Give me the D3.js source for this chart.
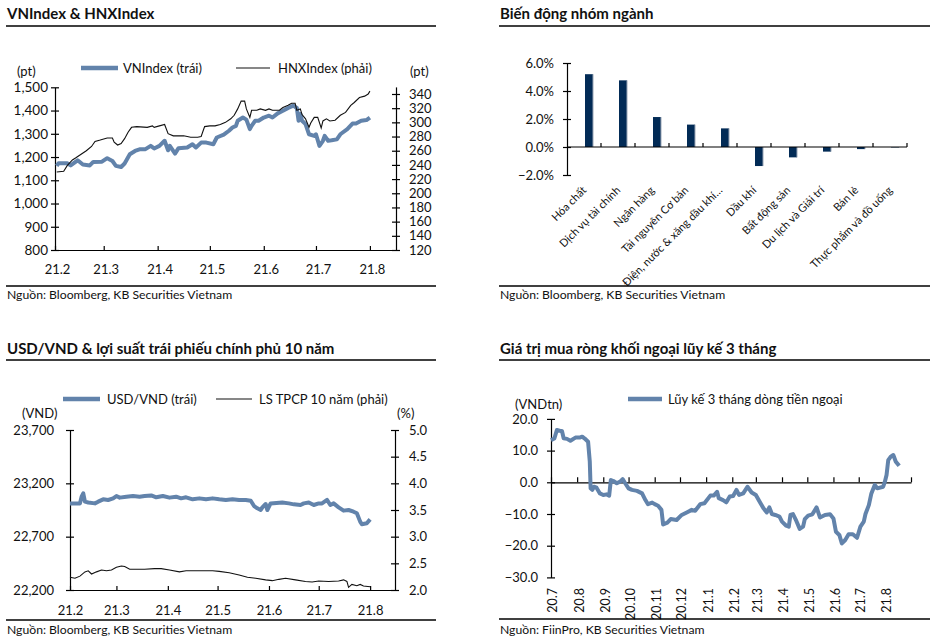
<!DOCTYPE html>
<html><head><meta charset="utf-8">
<script src="https://cdn.jsdelivr.net/npm/d3@7"></script>
<style>
body{margin:0;background:#fff;}
svg text{font-family:Lato,"Open Sans",sans-serif;fill:#111;}
</style></head><body>
<svg id="c" width="951" height="639"></svg>
<script>
// ---------- DATA ----------
// Panel 1: VNIndex & HNXIndex (days since 2021-02-01)
const vnDays = [1,2,7,9,13,16,20,22,27,30,33,35,38,40,43,46,49,52,55,57,60,63,65,66,69,71,76,79,81,84,87,91,93,97,100,102,104,105,108,110,112,113,115,117,120,123,125,128,131,134,137,139,140,141,142,144,146,149,150,152,154,155,157,159,162,164,168,171,173,176,179,181];
const vnValues = [1162,1173,1173,1164,1186,1168,1164,1179,1180,1195,1183,1162,1157,1172,1212,1226,1234,1234,1248,1237,1248,1270,1229,1248,1215,1238,1241,1255,1241,1262,1262,1255,1284,1296,1313,1327,1334,1356,1370,1361,1320,1334,1356,1356,1370,1378,1370,1388,1399,1411,1421,1411,1356,1385,1356,1342,1298,1291,1298,1248,1270,1291,1270,1272,1276,1298,1320,1344,1344,1356,1359,1370];
const hnxDays = [1,5,7,10,12,15,18,21,23,26,30,33,34,36,38,40,42,44,47,53,56,57,60,63,65,68,71,74,78,82,84,86,89,92,95,98,101,103,105,107,109,110,112,113,116,118,121,123,125,129,131,134,136,138,139,141,142,144,146,147,149,151,153,154,156,158,161,164,167,170,172,175,178,180,181];
const hnxValues = [230,231,239,247,250,255,260,266,273,275,278,278,272,268,270,277,286,293,294,293,295,293,295,297,284,281,281,281,279,279,280,294,295,295,297,300,305,310,319,330,330,319,307,317,317,319,317,319,317,317,321,324,327,327,317,319,311,305,293,299,307,307,292,302,305,302,303,310,314,324,328,335,337,340,344];
const p1LeftTicks = [800,900,1000,1100,1200,1300,1400,1500];
const p1RightTicks = [120,140,160,180,200,220,240,260,280,300,320,340];
const p1MonthLabels = ["21.2","21.3","21.4","21.5","21.6","21.7","21.8"];

// Panel 2: sector changes (%)
const sectors = ["Hóa chất","Dịch vụ tài chính","Ngân hàng","Tài nguyên Cơ bản","Điện, nước & xăng dầu khí…","Dầu khí","Bất động sản","Du lịch và Giải trí","Bán lẻ","Thực phẩm và đồ uống"];
const sectorChanges = [5.2,4.76,2.14,1.6,1.33,-1.36,-0.74,-0.33,-0.15,-0.03];
const p2Ticks = [-2,0,2,4,6];

// Panel 3: USD/VND & 10Y bond yield (days since 2021-02-01)
const fxDays = [0,6,7,8,9,11,15,17,20,23,26,28,30,34,38,42,45,49,52,56,60,64,67,70,74,78,82,86,90,94,98,102,106,109,111,113,115,116,118,119,121,128,132,135,139,141,144,147,150,152,155,157,159,162,165,168,171,173,175,176,179,181];
const fxValues = [23012,23012,23075,23106,23028,23020,23012,23028,23050,23044,23059,23081,23066,23075,23081,23075,23081,23087,23069,23081,23066,23075,23059,23069,23050,23059,23050,23059,23050,23044,23050,23044,23044,23037,22987,22966,22950,22975,23006,22950,23012,23020,23012,23003,22997,23012,23020,22997,23012,23012,23044,22997,23012,22975,22944,22950,22934,22919,22841,22816,22825,22862];
const bondDays = [0,3,6,9,11,13,16,19,22,25,28,31,33,36,40,45,51,55,60,66,70,78,86,90,96,102,107,112,118,122,126,130,136,142,146,150,156,162,165,167,168,170,173,175,177,181];
const bondValues = [2.24,2.22,2.26,2.34,2.36,2.30,2.34,2.375,2.36,2.375,2.425,2.45,2.44,2.39,2.39,2.39,2.40,2.40,2.375,2.34,2.36,2.36,2.36,2.35,2.325,2.28,2.24,2.22,2.19,2.175,2.20,2.22,2.19,2.16,2.15,2.17,2.16,2.17,2.19,2.16,2.05,2.105,2.08,2.105,2.075,2.06];
const p3LeftTicks = [22200,22700,23200,23700];
const p3RightTicks = [2.0,2.5,3.0,3.5,4.0,4.5,5.0];
const p3MonthLabels = ["21.2","21.3","21.4","21.5","21.6","21.7","21.8"];

// Panel 4: foreign net buying, 3-month cumulative (days since 2020-07-01)
const flowDays = [0,4,7,11,13,15,19,23,29,34,37,40,44,46,47,49,51,54,58,62,66,69,71,74,78,82,85,88,92,96,102,108,112,115,120,123,127,131,133,138,142,149,155,161,167,171,177,182,189,193,197,199,204,208,212,216,220,223,228,233,238,243,247,252,256,259,262,266,271,274,279,282,284,287,291,295,299,301,305,310,315,319,325,331,335,338,342,345,349,353,358,363,367,371,373,377,380,384,387,394,396,398,400,403,406,409,413];
const flowValues = [13.3,13.8,16.5,16.2,16.2,13.9,13.7,13.1,14.1,14.1,14.4,13.8,12.8,6.5,-1.9,-2.4,-1.4,-1.7,-3.5,-4.0,-3.8,-4.2,0.7,0.4,-0.3,0.2,1.0,-0.3,-1.9,-2.4,-2.7,-3.5,-5.6,-6.9,-6.4,-6.9,-7.4,-8.7,-13.3,-12.7,-11.6,-11.9,-10.3,-9.5,-8.7,-9.0,-6.9,-6.6,-4.2,-4.2,-3.0,-5.0,-5.6,-6.3,-4.5,-4.3,-2.4,-4.0,-3.5,-1.4,-3.2,-4.0,-5.9,-8.2,-9.5,-7.9,-10.0,-10.3,-10.8,-12.4,-13.7,-14.0,-10.3,-10.0,-12.2,-14.7,-14.0,-11.6,-10.5,-10.1,-7.9,-11.1,-10.3,-10.1,-11.4,-15.6,-16.6,-19.3,-18.2,-16.4,-16.4,-17.5,-14.0,-12.4,-10.0,-7.2,-3.5,-0.85,-1.9,-1.4,0.2,2.3,7.0,8.1,8.6,6.5,5.2];
const p4Ticks = [-30,-20,-10,0,10,20];
const p4MonthLabels = ["20.7","20.8","20.9","20.10","20.11","20.12","21.1","21.2","21.3","21.4","21.5","21.6","21.7","21.8"];

// ---------- HELPERS ----------
const BLUE = "#6283ab", NAVY = "#022b56", INK = "#111";
const svg = d3.select("#c");
const monthDate = s => { const [yy, mm] = s.split(".").map(Number); return new Date(2000 + yy, mm - 1, 1); };
const start21 = new Date(2021, 1, 1), start20 = new Date(2020, 6, 1);
const toDate = (base, d) => d3.timeDay.offset(base, d);

function title(x, y, t){ svg.append("text").attr("x",x).attr("y",y).attr("font-size",15).attr("font-weight",700).text(t); }
function rule(x1, x2, y){ svg.append("line").attr("x1",x1).attr("x2",x2).attr("y1",y).attr("y2",y).attr("stroke","#000").attr("stroke-width",1.3); }
function label(x, y, t, fs, anchor){ return svg.append("text").attr("x",x).attr("y",y).attr("dy","0.35em").attr("font-size",fs).attr("text-anchor",anchor||"start").text(t); }
function styleAxis(g, fs){
  g.attr("font-family",null).attr("font-size",fs);
  g.selectAll("path,line").attr("stroke","#000").attr("stroke-width",1.2);
  g.selectAll("text").attr("fill",INK);
}
function crossTicks(g, side){ g.selectAll(".tick line").attr("x1", side === "left" ? 4 : -4); }
function legendLine(x1, x2, y, color, w){ svg.append("line").attr("x1",x1).attr("x2",x2).attr("y1",y).attr("y2",y).attr("stroke",color).attr("stroke-width",w); }

// ---------- PANEL 1 ----------
title(7, 18.5, "VNIndex & HNXIndex");
rule(6, 436, 26);
const x1 = d3.scaleTime().domain([start21, new Date(2021,7,16)]).range([55,396]);
const y1L = d3.scaleLinear().domain([800,1500]).range([250,87.3]);
const y1R = d3.scaleLinear().domain([120,350]).range([250,86.9]);
{
  const gl = svg.append("g").attr("transform","translate(55,0)")
    .call(d3.axisLeft(y1L).tickValues(p1LeftTicks).tickFormat(d3.format(",")).tickSize(4).tickSizeOuter(0).tickPadding(3));
  styleAxis(gl, 13.5); crossTicks(gl, "left");
  const gr = svg.append("g").attr("transform","translate(396,0)")
    .call(d3.axisRight(y1R).tickValues(p1RightTicks).tickSize(4).tickSizeOuter(0).tickPadding(9));
  styleAxis(gr, 13); crossTicks(gr, "right");
  const gx = svg.append("g").attr("transform","translate(0,250)")
    .call(d3.axisBottom(x1).tickValues(p1MonthLabels.map(monthDate)).tickFormat((d,i)=>p1MonthLabels[i]).tickSize(-4).tickSizeOuter(0).tickPadding(15));
  styleAxis(gx, 13);
  gx.selectAll(".tick text").attr("dx", 2);
  const vn = vnDays.map((d,i)=>({date:toDate(start21,d), v:vnValues[i]}));
  const hx = hnxDays.map((d,i)=>({date:toDate(start21,d), v:hnxValues[i]}));
  svg.append("path").datum(vn).attr("fill","none").attr("stroke",BLUE).attr("stroke-width",4).attr("stroke-linejoin","round")
    .attr("d", d3.line().x(d=>x1(d.date)).y(d=>y1L(d.v)));
  svg.append("path").datum(hx).attr("fill","none").attr("stroke","#111").attr("stroke-width",1.1)
    .attr("d", d3.line().x(d=>x1(d.date)).y(d=>y1R(d.v)));
  legendLine(81, 118, 68, BLUE, 4.5); label(123, 68, "VNIndex (trái)", 13);
  legendLine(236, 270, 68, "#111", 1.1); label(278, 68, "HNXIndex (phải)", 13);
  label(17, 71, "(pt)", 13); label(410, 71, "(pt)", 13);
}
rule(6, 436, 286);
label(7, 295, "Nguồn: Bloomberg, KB Securities Vietnam", 12.2);

// ---------- PANEL 2 ----------
title(500, 18.5, "Biến động nhóm ngành");
rule(499, 930, 26);
{
  const xb = d3.scaleBand().domain(sectors).range([567,907]).padding(0);
  const yb = d3.scaleLinear().domain([-2,6]).range([175,63]);
  const gy = svg.append("g").attr("transform","translate(567,0)")
    .call(d3.axisLeft(yb).tickValues(p2Ticks).tickFormat(d=>d3.format(".1f")(d)+"%").tickSize(4).tickSizeOuter(0).tickPadding(9));
  styleAxis(gy, 13); crossTicks(gy, "left");
  svg.selectAll("rect.bar").data(sectors).join("rect").attr("class","bar")
    .attr("x", s=>xb(s)+18).attr("width", 8)
    .attr("y", (s,i)=>yb(Math.max(0,sectorChanges[i])))
    .attr("height", (s,i)=>Math.abs(yb(sectorChanges[i])-yb(0)))
    .attr("fill", NAVY);
  svg.selectAll("line.edge").data(sectors).join("line").attr("class","edge")
    .attr("x1", s=>xb(s)+26).attr("x2", s=>xb(s)+26)
    .attr("y1", (s,i)=>yb(Math.max(0,sectorChanges[i])))
    .attr("y2", (s,i)=>yb(Math.min(0,sectorChanges[i])))
    .attr("stroke","#9aa6b6").attr("stroke-width",1);
  svg.append("line").attr("x1",567).attr("x2",907).attr("y1",yb(0)).attr("y2",yb(0)).attr("stroke","#000").attr("stroke-width",1.2);
  svg.selectAll("line.btick").data(sectors).join("line").attr("class","btick")
    .attr("x1", s=>xb(s)+xb.bandwidth()).attr("x2", s=>xb(s)+xb.bandwidth())
    .attr("y1", yb(0)-4).attr("y2", yb(0)).attr("stroke","#000").attr("stroke-width",1.2);
  svg.selectAll("text.cat").data(sectors).join("text").attr("class","cat")
    .attr("font-size", 11).attr("text-anchor","end")
    .attr("transform", s=>`translate(${xb(s)+xb.bandwidth()/2+3},191) rotate(-45)`)
    .text(s=>s);
}
rule(499, 930, 286);
label(500, 295, "Nguồn: Bloomberg, KB Securities Vietnam", 12.2);

// ---------- PANEL 3 ----------
title(7, 353.5, "USD/VND & lợi suất trái phiếu chính phủ 10 năm");
rule(6, 436, 360);
{
  const x3 = d3.scaleTime().domain([start21, new Date(2021,7,16)]).range([70,395]);
  const y3L = d3.scaleLinear().domain([22200,23700]).range([590,430]);
  const y3R = d3.scaleLinear().domain([2,5]).range([590,430]);
  const gl = svg.append("g").attr("transform","translate(70,0)")
    .call(d3.axisLeft(y3L).tickValues(p3LeftTicks).tickFormat(d3.format(",")).tickSize(4).tickSizeOuter(0).tickPadding(12));
  styleAxis(gl, 13); crossTicks(gl, "left");
  const gr = svg.append("g").attr("transform","translate(395,0)")
    .call(d3.axisRight(y3R).tickValues(p3RightTicks).tickFormat(d3.format(".1f")).tickSize(4).tickSizeOuter(0).tickPadding(10));
  styleAxis(gr, 13); crossTicks(gr, "right");
  const gx = svg.append("g").attr("transform","translate(0,590)")
    .call(d3.axisBottom(x3).tickValues(p3MonthLabels.map(monthDate)).tickFormat((d,i)=>p3MonthLabels[i]).tickSize(-4).tickSizeOuter(0).tickPadding(16));
  styleAxis(gx, 13);
  const fx = fxDays.map((d,i)=>({date:toDate(start21,d), v:fxValues[i]}));
  const bd = bondDays.map((d,i)=>({date:toDate(start21,d), v:bondValues[i]}));
  svg.append("path").datum(fx).attr("fill","none").attr("stroke",BLUE).attr("stroke-width",4).attr("stroke-linejoin","round")
    .attr("d", d3.line().x(d=>x3(d.date)).y(d=>y3L(d.v)));
  svg.append("path").datum(bd).attr("fill","none").attr("stroke","#111").attr("stroke-width",1.1)
    .attr("d", d3.line().x(d=>x3(d.date)).y(d=>y3R(d.v)));
  legendLine(63, 100, 399, BLUE, 4.5); label(107, 399, "USD/VND (trái)", 13);
  legendLine(216, 252, 399, "#111", 1.1); label(259, 399, "LS TPCP 10 năm (phải)", 13);
  label(22, 413, "(VND)", 13); label(397, 413, "(%)", 13);
}
rule(6, 436, 620);
label(7, 630, "Nguồn: Bloomberg, KB Securities Vietnam", 12.2);

// ---------- PANEL 4 ----------
title(500, 353.5, "Giá trị mua ròng khối ngoại lũy kế 3 tháng");
rule(499, 930, 360);
{
  const x4 = d3.scaleTime().domain([start20, new Date(2021,8,1)]).range([551,911]);
  const y4 = d3.scaleLinear().domain([-30,20]).range([577.4,418.9]);
  const gy = svg.append("g").attr("transform","translate(551,0)")
    .call(d3.axisLeft(y4).tickValues(p4Ticks).tickFormat(d3.format(".1f")).tickSize(4).tickSizeOuter(0).tickPadding(9));
  styleAxis(gy, 13); crossTicks(gy, "left");
  const monthTicks = p4MonthLabels.map(monthDate).concat([new Date(2021,8,1)]);
  const gx = svg.append("g").attr("transform",`translate(0,${y4(0)})`)
    .call(d3.axisBottom(x4).tickValues(monthTicks).tickFormat("").tickSize(-5).tickSizeOuter(0));
  styleAxis(gx, 12);
  svg.selectAll("text.mlab").data(p4MonthLabels).join("text").attr("class","mlab")
    .attr("font-size", 12.5).attr("text-anchor","end").attr("dy","0.35em")
    .attr("transform", s=>`translate(${x4(monthDate(s))+2},588) rotate(-90)`)
    .text(s=>s);
  const fl = flowDays.map((d,i)=>({date:toDate(start20,d), v:flowValues[i]}));
  svg.append("path").datum(fl).attr("fill","none").attr("stroke",BLUE).attr("stroke-width",4).attr("stroke-linejoin","round")
    .attr("d", d3.line().x(d=>x4(d.date)).y(d=>y4(d.v)));
  legendLine(628, 662, 399, BLUE, 4.5); label(668, 399, "Lũy kế 3 tháng dòng tiền ngoại", 13);
  label(515, 404, "(VNDtn)", 13);
}
rule(499, 930, 619);
label(500, 630, "Nguồn: FiinPro, KB Securities Vietnam", 12.2);
</script>
</body></html>
